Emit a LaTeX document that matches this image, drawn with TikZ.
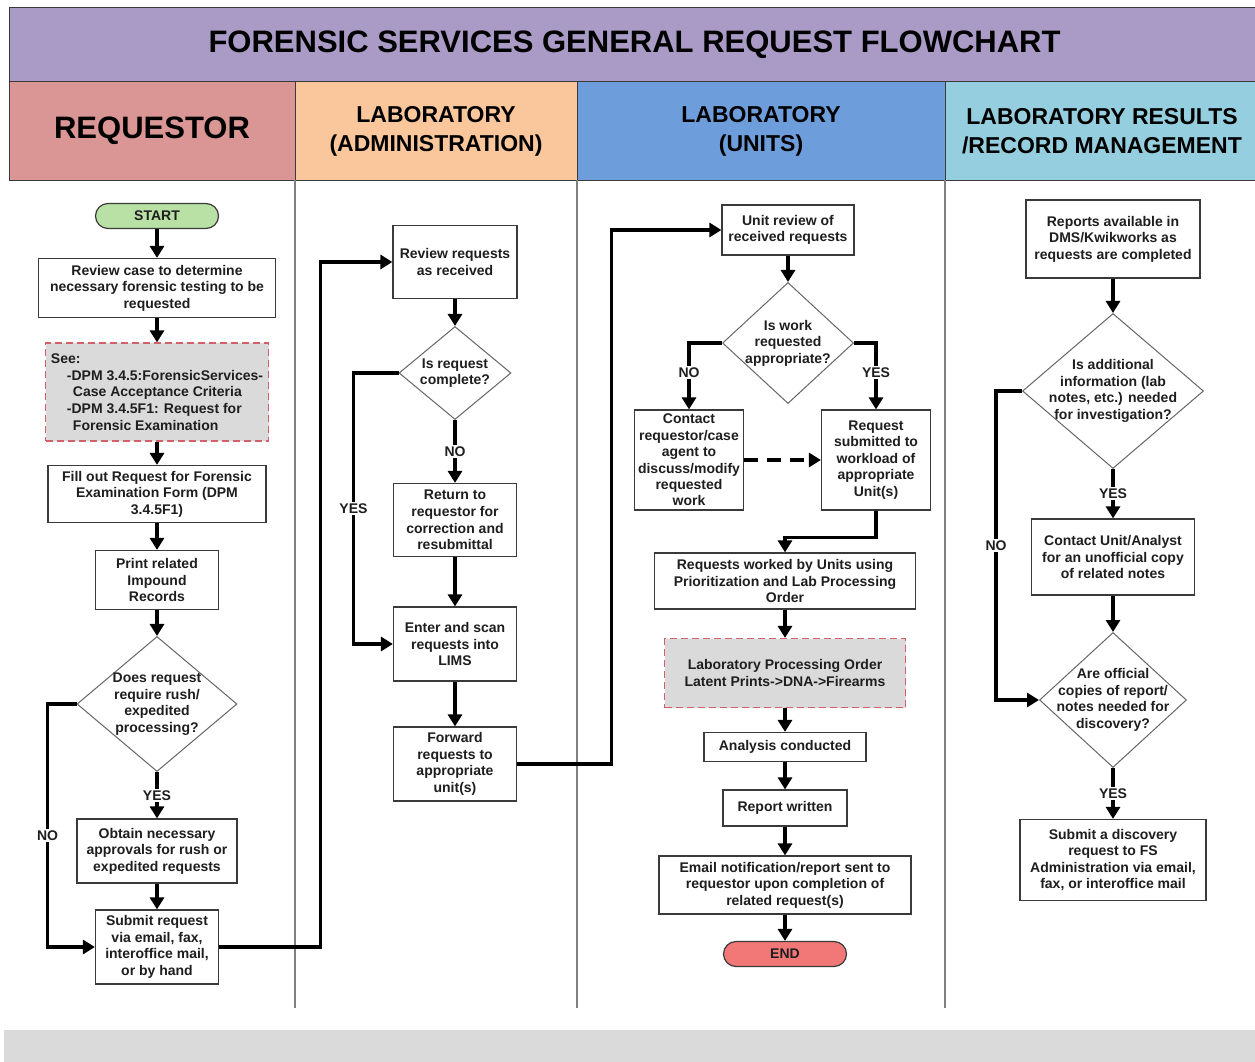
\documentclass[tikz,border=0pt]{standalone}
\usepackage{fontspec}
\setmainfont{Liberation Sans}
\usetikzlibrary{arrows.meta,shapes.geometric}
\definecolor{titlebar}{HTML}{A99BC6}
\definecolor{reqlane}{HTML}{D99694}
\definecolor{admlane}{HTML}{FAC79D}
\definecolor{unitlane}{HTML}{6D9EDB}
\definecolor{reclane}{HTML}{95CEDE}
\definecolor{startgreen}{HTML}{B9E0A5}
\definecolor{endred}{HTML}{F27878}
\definecolor{notegray}{HTML}{DADADA}
\definecolor{notered}{HTML}{D0606A}
\definecolor{boxline}{HTML}{3A3A3A}
\definecolor{ink}{HTML}{1E1E1E}

\begin{document}
\begin{tikzpicture}[x=1pt,y=-1pt,text=ink,
 lane/.style={draw=boxline,line width=1pt,font=\fontsize{23}{29}\selectfont\bfseries,text=black,align=center,inner sep=0pt},
 box/.style={draw=boxline,line width=1.2pt,fill=white,align=center,inner sep=2pt,font=\fontsize{14}{16.6}\selectfont\bfseries},
 note/.style={box,draw=notered,fill=notegray,dash pattern=on 7pt off 4pt},
 term/.style={box,rounded corners=12.5pt,inner sep=0pt},
 dec/.style={diamond,draw=gray!80!black,line width=1pt,fill=white,inner sep=0pt},
 dtext/.style={align=center,inner sep=0pt,font=\fontsize{14}{16.6}\selectfont\bfseries},
 flow/.style={-{Triangle[length=12pt,width=14pt]},line width=3.2pt,black},
 lbl/.style={fill=white,inner sep=1.5pt,font=\fontsize{14}{16}\selectfont\bfseries,text=ink}]
 \useasboundingbox (0,0) rectangle (1255,1062);
 \fill[notegray] (4,1030) rectangle (1255,1062);
 % swimlane headers
 \node[lane,fill=titlebar,minimum width=1251,minimum height=74,font=\fontsize{31}{34}\selectfont\bfseries] (title) at (634.5,45) {FORENSIC SERVICES GENERAL REQUEST FLOWCHART};
 \node[lane,fill=reqlane,minimum width=286,minimum height=98,font=\fontsize{31}{34}\selectfont\bfseries] (hreq) at (152,131) {REQUESTOR};
 \node[lane,fill=admlane,minimum width=282,minimum height=98] (hadm) at (436,131) {LABORATORY\\(ADMINISTRATION)};
 \node[lane,fill=unitlane,minimum width=368,minimum height=98] (hunit) at (761,131) {LABORATORY\\(UNITS)};
 \node[lane,fill=reclane,minimum width=314,minimum height=98] (hrec) at (1102,131) {LABORATORY RESULTS\\/RECORD MANAGEMENT};
 \foreach \x in {295,577,945}{\draw[gray,line width=1.5pt] (\x,180)--(\x,1008);}
 % requestor
 \node[term,fill=startgreen,minimum width=123,minimum height=25] (start) at (157,216) {START};
 \node[box,minimum width=237,minimum height=59] (revcase) at (157,288) {Review case to determine\\necessary forensic testing to be\\requested};
 \node[note,minimum width=223,minimum height=98,align=left] (see) at (157,392) {See:\\\hspace*{16pt}-DPM 3.4.5:ForensicServices-\\\hspace*{22pt}Case Acceptance Criteria\\\hspace*{16pt}-DPM 3.4.5F1: Request for\\\hspace*{22pt}Forensic Examination};
 \node[box,minimum width=218,minimum height=57] (fillout) at (157,494) {Fill out Request for Forensic\\Examination Form (DPM\\3.4.5F1)};
 \node[box,minimum width=123,minimum height=59] (print) at (157,580) {Print related\\Impound\\Records};
 \node[dec,minimum width=160,minimum height=135,label={[dtext,name=rusht]center:Does request\\require rush/\\expedited\\processing?}] (rush) at (157,704) {};
 \node[box,minimum width=160,minimum height=64] (approve) at (157,851) {Obtain necessary\\approvals for rush or\\expedited requests};
 \node[box,minimum width=123,minimum height=74] (submit) at (157,947) {Submit request\\via email, fax,\\interoffice mail,\\or by hand};
 % administration
 \node[box,minimum width=124,minimum height=73] (revreq) at (455,262) {Review requests\\as received};
 \node[dec,minimum width=112,minimum height=93,label={[dtext,name=completet]center:Is request\\complete?}] (complete) at (455,373) {};
 \node[box,minimum width=123,minimum height=73] (return) at (455,520) {Return to\\requestor for\\correction and\\resubmittal};
 \node[box,minimum width=123,minimum height=74] (enter) at (455,644) {Enter and scan\\requests into\\LIMS};
 \node[box,minimum width=123,minimum height=74] (forward) at (455,764) {Forward\\requests to\\appropriate\\unit(s)};
 % units
 \node[box,minimum width=132,minimum height=50] (unitrev) at (788,230) {Unit review of\\received requests};
 \node[dec,minimum width=131,minimum height=121,label={[dtext,name=appropt]center:Is work\\requested\\appropriate?}] (approp) at (788,343) {};
 \node[box,minimum width=109,minimum height=100,inner sep=1pt,font=\fontsize{14}{16.4}\selectfont\bfseries] (contact) at (689,460) {Contact\\requestor/case\\agent to\\discuss/modify\\requested\\work};
 \node[box,minimum width=109,minimum height=100] (submitted) at (876,460) {Request\\submitted to\\workload of\\appropriate\\Unit(s)};
 \node[box,minimum width=261,minimum height=56] (worked) at (785,581) {Requests worked by Units using\\Prioritization and Lab Processing\\Order};
 \node[note,minimum width=241,minimum height=69] (order) at (785,673) {Laboratory Processing Order\\Latent Prints->DNA->Firearms};
 \node[box,minimum width=162,minimum height=29] (analysis) at (785,747) {Analysis conducted};
 \node[box,minimum width=124,minimum height=36] (report) at (785,808) {Report written};
 \node[box,minimum width=252,minimum height=58] (email) at (785,885) {Email notification/report sent to\\requestor upon completion of\\related request(s)};
 \node[term,fill=endred,minimum width=123,minimum height=25] (end) at (785,954) {END};
 % results / records
 \node[box,minimum width=174,minimum height=78] (avail) at (1113,239) {Reports available in\\DMS/Kwikworks as\\requests are completed};
 \node[dec,minimum width=181,minimum height=155,label={[dtext,name=addinfot]center:Is additional\\information (lab\\notes, etc.) needed\\for investigation?}] (addinfo) at (1113,391) {};
 \node[box,minimum width=163,minimum height=76] (unitcopy) at (1113,557) {Contact Unit/Analyst\\for an unofficial copy\\of related notes};
 \node[dec,minimum width=147,minimum height=135,label={[dtext,name=officialt]center:Are official\\copies of report/\\notes needed for\\discovery?}] (official) at (1113,700) {};
 \node[box,minimum width=186,minimum height=81] (discovery) at (1113,860) {Submit a discovery\\request to FS\\Administration via email,\\fax, or interoffice mail};
 % connectors
 \draw[flow] (start) -- (revcase);
 \draw[flow] (revcase) -- (see);
 \draw[flow] (see) -- (fillout);
 \draw[flow] (fillout) -- (print);
 \draw[flow] (print) -- (rush);
 \draw[flow] (rush) -- node[lbl]{YES} (approve);
 \draw[flow] (approve) -- (submit);
 \draw[flow] (rush.west) -- ++(-29,0) |- node[lbl,pos=.27]{NO} (submit.west);
 \draw[flow] (submit.east) -- ++(101,0) |- (revreq.west);
 \draw[flow] (revreq) -- (complete);
 \draw[flow] (complete) -- node[lbl]{NO} (return);
 \draw[flow] (return) -- (enter);
 \draw[flow] (enter) -- (forward);
 \draw[flow] (complete.west) -- ++(-45,0) |- node[lbl,pos=.25]{YES} (enter.west);
 \draw[flow] (forward.east) -- ++(94,0) |- (unitrev.west);
 \draw[flow] (unitrev) -- (approp);
 \draw[flow] (approp.west) -| node[lbl,pos=.72]{NO} (contact.north);
 \draw[flow] (approp.east) -| node[lbl,pos=.72]{YES} (submitted.north);
 \draw[flow,dash pattern=on 14pt off 9pt] (contact) -- (submitted);
 \draw[flow] (submitted.south) -- ++(0,27) -| (worked.north);
 \draw[flow] (worked) -- (order);
 \draw[flow] (order) -- (analysis);
 \draw[flow] (analysis) -- (report);
 \draw[flow] (report) -- (email);
 \draw[flow] (email) -- (end);
 \draw[flow] (avail) -- (addinfo);
 \draw[flow] (addinfo) -- node[lbl]{YES} (unitcopy);
 \draw[flow] (unitcopy) -- (official);
 \draw[flow] (addinfo.west) -- ++(-26,0) |- node[lbl,pos=.25]{NO} (official.west);
 \draw[flow] (official) -- node[lbl]{YES} (discovery);
\end{tikzpicture}
\end{document}
